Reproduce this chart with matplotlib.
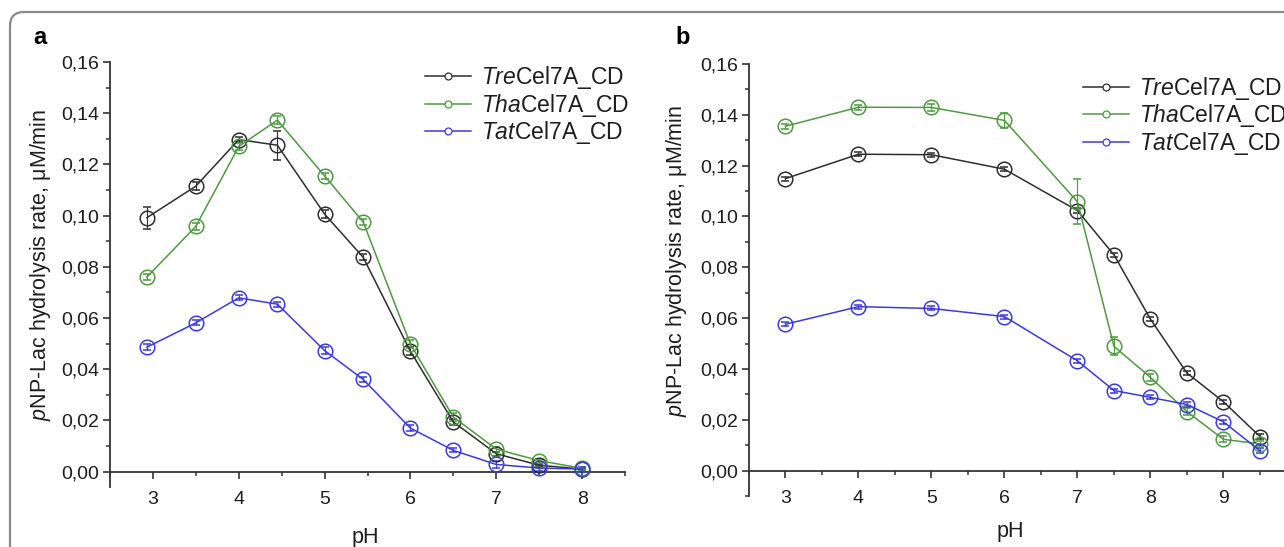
import numpy as np
import matplotlib
matplotlib.use("Agg")
import matplotlib.pyplot as plt
from matplotlib.lines import Line2D
from matplotlib.patches import FancyBboxPatch
from matplotlib.ticker import MultipleLocator, FixedLocator, FixedFormatter

plt.rcParams["font.family"] = ["Liberation Sans", "DejaVu Sans"]
plt.rcParams["mathtext.fontset"] = "custom"
plt.rcParams["mathtext.rm"] = "Liberation Sans"
plt.rcParams["mathtext.it"] = "Liberation Sans:italic"

# ---- data, panel a ----
ph_a = [2.93, 3.5, 4.0, 4.45, 5.0, 5.45, 6.0, 6.5, 7.0, 7.5, 8.0]
tre_a = [0.0992, 0.1115, 0.1297, 0.1275, 0.1006, 0.0837, 0.0470, 0.0194, 0.0070, 0.0025, 0.0010]
tha_a = [0.0760, 0.0958, 0.1270, 0.1373, 0.1155, 0.0975, 0.0498, 0.0213, 0.0088, 0.0043, 0.0013]
tat_a = [0.0486, 0.0581, 0.0679, 0.0654, 0.0473, 0.0360, 0.0170, 0.0083, 0.0028, 0.0014, 0.0010]
tre_a_err = [0.0043, 0.0015, 0.0010, 0.0057, 0.0015, 0.0012, 0.0015, 0.0010, 0.0008, 0.0005, 0.0005]
tha_a_err = [0.0012, 0.0015, 0.0012, 0.0015, 0.0012, 0.0010, 0.0015, 0.0015, 0.0010, 0.0008, 0.0005]
tat_a_err = [0.0012, 0.0010, 0.0010, 0.0010, 0.0012, 0.0010, 0.0012, 0.0008, 0.0015, 0.0010, 0.0010]

# ---- data, panel b ----
ph_b = [3.0, 4.0, 5.0, 6.0, 7.0, 7.5, 8.0, 8.5, 9.0, 9.5]
tre_b = [0.1149, 0.1245, 0.1243, 0.1186, 0.1023, 0.0849, 0.0596, 0.0384, 0.0271, 0.0134]
tha_b = [0.1355, 0.1430, 0.1429, 0.1378, 0.1058, 0.0489, 0.0367, 0.0232, 0.0123, 0.0105]
tat_b = [0.0576, 0.0645, 0.0638, 0.0606, 0.0432, 0.0315, 0.0288, 0.0260, 0.0192, 0.0078]
tre_b_err = [0.0008, 0.0008, 0.0008, 0.0008, 0.0010, 0.0008, 0.0008, 0.0008, 0.0008, 0.0010]
tha_b_err = [0.0010, 0.0010, 0.0015, 0.0030, 0.0089, 0.0035, 0.0015, 0.0015, 0.0012, 0.0010]
tat_b_err = [0.0008, 0.0008, 0.0008, 0.0008, 0.0008, 0.0008, 0.0008, 0.0010, 0.0008, 0.0010]

names = [r"$\mathit{Tre}$Cel7A_CD", r"$\mathit{Tha}$Cel7A_CD", r"$\mathit{Tat}$Cel7A_CD"]
colors = ["#2e2e2e", "#4e9a40", "#3b3bd8"]

y_ticks = [0.00, 0.02, 0.04, 0.06, 0.08, 0.10, 0.12, 0.14, 0.16]
y_tick_labels = ["0,00", "0,02", "0,04", "0,06", "0,08", "0,10", "0,12", "0,14", "0,16"]
x_ticks_a = [3, 4, 5, 6, 7, 8]
x_ticks_b = [3, 4, 5, 6, 7, 8, 9]

W, H = 1284, 547
fig = plt.figure(figsize=(W / 100, H / 100), dpi=100)

# rounded grey frame round the figure
frame = FancyBboxPatch((0.10, -1.0), 14.0, 5.35 - (-1.0), boxstyle="round,pad=0,rounding_size=0.14",
                       transform=fig.dpi_scale_trans, facecolor="none", edgecolor="#8a8a8a",
                       linewidth=1.6)
fig.patches.append(frame)


def px_axes(left, right, top, bottom):
    return fig.add_axes([left / W, 1 - bottom / H, (right - left) / W, (bottom - top) / H])


def style_axes(ax, xlim, ylim, xticks):
    ax.set_xlim(*xlim)
    ax.set_ylim(*ylim)
    for s in ["top", "right"]:
        ax.spines[s].set_visible(False)
    ax.spines["bottom"].set_position(("data", 0))
    for s in ["left", "bottom"]:
        ax.spines[s].set_color("#333333")
        ax.spines[s].set_linewidth(1.3)
    ax.xaxis.set_major_locator(FixedLocator(xticks))
    ax.xaxis.set_minor_locator(MultipleLocator(0.5))
    ax.yaxis.set_major_locator(FixedLocator(y_ticks))
    ax.yaxis.set_major_formatter(FixedFormatter(y_tick_labels))
    ax.yaxis.set_minor_locator(MultipleLocator(0.01))
    ax.tick_params(which="major", direction="out", length=5, width=1.2, color="#333333",
                   labelsize=14, labelcolor="#1e1e1e", pad=3)
    ax.tick_params(which="minor", direction="out", length=3, width=1.1, color="#333333")
    ax.tick_params(axis="x", which="major", pad=9)
    ax.set_ylabel(r"$\mathit{p}$NP-Lac hydrolysis rate, μM/min", fontsize=15.5, color="#1e1e1e")
    ax.set_xlabel("pH", fontsize=15.5, color="#1e1e1e")
    ax.xaxis.label.set_verticalalignment("center")
    ax.yaxis.label.set_verticalalignment("center")


def draw(ax, x, series, errs):
    for y, e, c in zip(series, errs, colors):
        ax.errorbar(x, y, yerr=e, color=c, lw=1.1, marker="o", ms=10.5, mfc="none", mec=c,
                    mew=1.1, elinewidth=0.8, capsize=3, capthick=0.8, zorder=3)


def legend(ax, anchor):
    handles = [Line2D([], [], color=c, lw=1.1, marker="o", ms=5, mfc="white", mec=c, mew=0.9)
               for c in colors]
    ax.legend(handles, names, loc="upper left", bbox_to_anchor=anchor, frameon=False,
              fontsize=16.5, handlelength=2.0, handletextpad=0.45, labelspacing=0.02,
              borderpad=0, borderaxespad=0, labelcolor="#1e1e1e")


# panel a
ax_a = px_axes(110, 625, 62, 487)
style_axes(ax_a, (2.5, 8.5), (-0.006, 0.16), x_ticks_a)
draw(ax_a, ph_a, [tre_a, tha_a, tat_a], [tre_a_err, tha_a_err, tat_a_err])
legend(ax_a, (0.612, 0.995))
ax_a.yaxis.set_label_coords(-0.134, 0.522)
ax_a.xaxis.set_label_coords(0.495, -0.118)

# panel b
ax_b = px_axes(749, 1284, 64, 496)
style_axes(ax_b, (2.5, 9.83), (-0.01, 0.16), x_ticks_b)
draw(ax_b, ph_b, [tre_b, tha_b, tat_b], [tre_b_err, tha_b_err, tat_b_err])
legend(ax_b, (0.624, 0.975))
ax_b.yaxis.set_label_coords(-0.135, 0.544)
ax_b.xaxis.set_label_coords(0.488, -0.083)

fig.text(40 / W, 1 - 38 / H, "a", fontsize=17, fontweight="bold", ha="center", va="center")
fig.text(683 / W, 1 - 38 / H, "b", fontsize=17, fontweight="bold", ha="center", va="center")

fig.savefig("out.png", dpi=100)
